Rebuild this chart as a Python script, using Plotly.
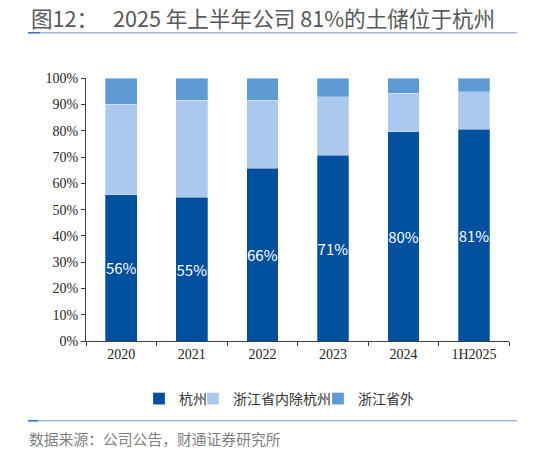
import plotly.graph_objects as go

categories = ["2020", "2021", "2022", "2023", "2024", "1H2025"]
hangzhou = [55.6, 54.8, 65.7, 70.8, 79.6, 80.6]
zhejiang_other = [34.6, 36.8, 25.9, 22.1, 14.8, 14.3]
outside_zhejiang = [9.8, 8.4, 8.4, 7.1, 5.6, 5.1]
series_names = ["杭州", "浙江省内除杭州", "浙江省外"]
y_ticks = [0, 10, 20, 30, 40, 50, 60, 70, 80, 90, 100]
y_tick_labels = [f"{v}%" for v in y_ticks]

W, H = 533, 452
CJK = "Noto Sans CJK SC"
SERIF = "Liberation Serif"
colors = ["#0050A0", "#ABC9EF", "#5E9BD5"]

def px(x):
    return x / W

def py(y):
    return 1 - y / H

fig = go.Figure()
edge = dict(color="rgba(255,255,255,0.45)", width=0.6)
fig.add_trace(go.Bar(
    x=categories, y=hangzhou, name=series_names[0], legend="legend",
    marker=dict(color=colors[0], line=edge),
    texttemplate="%{y:.0f}%", textposition="inside", insidetextanchor="middle",
    textangle=0, constraintext="none",
    insidetextfont=dict(family=CJK, size=15, color="white"),
    hoverinfo="skip",
))
fig.add_trace(go.Bar(
    x=categories, y=zhejiang_other, name=series_names[1], legend="legend2",
    marker=dict(color=colors[1], line=edge), hoverinfo="skip",
))
fig.add_trace(go.Bar(
    x=categories, y=outside_zhejiang, name=series_names[2], legend="legend3",
    marker=dict(color=colors[2], line=edge), hoverinfo="skip",
))

legend_font = dict(family=CJK, size=14, color="#333333")

def leg(text_start):
    return dict(
        orientation="h", x=px(text_start - 36), y=py(399),
        xanchor="left", yanchor="middle", font=legend_font,
        bgcolor="rgba(0,0,0,0)", itemclick=False, itemdoubleclick=False,
    )

axis_color = "#404040"
fig.update_layout(
    width=W, height=H, autosize=False,
    margin=dict(l=0, r=0, t=0, b=0, pad=0, autoexpand=False),
    paper_bgcolor="white", plot_bgcolor="white",
    barmode="stack", bargap=0.55,
    showlegend=True,
    legend=leg(175),
    legend2=leg(229),
    legend3=leg(354),
    xaxis=dict(
        domain=[px(86), px(509.3)], type="category", automargin=False,
        showline=True, linecolor=axis_color, linewidth=1,
        ticks="outside", ticklen=4, tickcolor=axis_color, tickson="boundaries",
        showgrid=False, zeroline=False,
        tickfont=dict(family=SERIF, size=14, color="#262626"),
        fixedrange=True,
    ),
    yaxis=dict(
        domain=[py(341), py(78.3)], range=[0, 100], automargin=False,
        tickmode="array", tickvals=y_ticks, ticktext=y_tick_labels,
        showline=True, linecolor=axis_color, linewidth=1,
        ticks="outside", ticklen=4, tickcolor=axis_color,
        showgrid=False, zeroline=False,
        tickfont=dict(family=SERIF, size=14, color="#262626"),
        fixedrange=True,
    ),
    annotations=[
        dict(text="图12：", x=px(29), y=py(17), xref="paper", yref="paper",
             xanchor="left", yanchor="middle", showarrow=False,
             font=dict(family=CJK, size=21.6, color="#595959")),
        dict(text="2025 年上半年公司 81%的土储位于杭州", x=px(111), y=py(17),
             xref="paper", yref="paper", xanchor="left", yanchor="middle",
             showarrow=False, font=dict(family=CJK, size=21.6, color="#595959")),
        dict(text="数据来源：公司公告，财通证券研究所", x=px(27), y=py(438),
             xref="paper", yref="paper", xanchor="left", yanchor="middle",
             showarrow=False, font=dict(family=CJK, size=14.8, color="#7F7F7F")),
    ],
    shapes=[
        dict(type="line", xref="paper", yref="paper", x0=px(28), x1=px(517),
             y0=py(32.7), y1=py(32.7), line=dict(color="#9DB9E0", width=1.5)),
        dict(type="line", xref="paper", yref="paper", x0=px(28), x1=px(40),
             y0=py(32.7), y1=py(32.7), line=dict(color="#3F73C0", width=1.5)),
        dict(type="line", xref="paper", yref="paper", x0=px(28), x1=px(517),
             y0=py(420.7), y1=py(420.7), line=dict(color="#9DB9E0", width=1.5)),
        dict(type="line", xref="paper", yref="paper", x0=px(28), x1=px(38),
             y0=py(420.7), y1=py(420.7), line=dict(color="#3F73C0", width=1.5)),
    ],
)

fig.write_html(
    "out.html",
    config={"displayModeBar": False},
    post_script="document.documentElement.style.margin='0';document.body.style.margin='0';document.body.style.overflow='hidden';",
)
